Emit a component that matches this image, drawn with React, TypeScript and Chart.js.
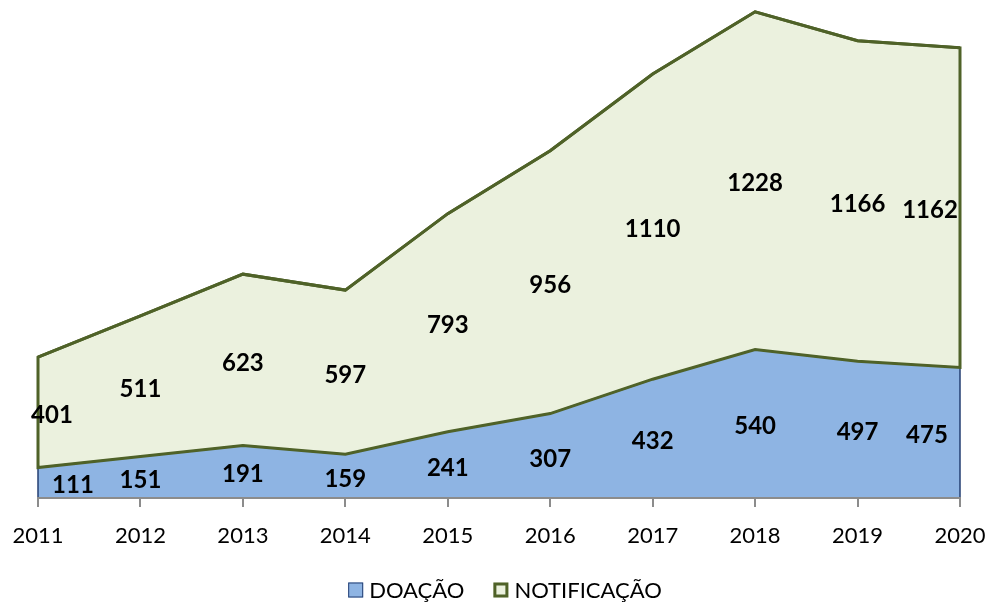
import React, { useEffect, useRef } from "react";
import { Chart, registerables } from "chart.js";

Chart.register(...registerables);

// ---- data ----
const years = ["2011", "2012", "2013", "2014", "2015", "2016", "2017", "2018", "2019", "2020"];
const doacao = [111, 151, 191, 159, 241, 307, 432, 540, 497, 475];
const notificacao = [401, 511, 623, 597, 793, 956, 1110, 1228, 1166, 1162];
const seriesNames = ["DOAÇÃO", "NOTIFICAÇÃO"];
const yMax = 1800;

// ---- styles ----
const FONT = "Lato, 'Open Sans', 'DejaVu Sans', sans-serif";
const BLUE_FILL = "#8EB4E3";
const BLUE_LINE = "#243F73";
const GREEN_FILL = "#EBF1DE";
const GREEN_LINE = "#4F6228";
const AXIS_GRAY = "#8C8C8C";

const areaPlugin = {
  id: "areaOutlineAndLabels",
  afterDatasetsDraw(chart: any) {
    const ctx = chart.ctx;
    const yScale = chart.scales.y;
    const base = yScale.getPixelForValue(0);
    const m0 = chart.getDatasetMeta(0).data;
    const m1 = chart.getDatasetMeta(1).data;
    const n = m0.length;
    ctx.save();
    // outline of lower area
    ctx.beginPath();
    ctx.moveTo(m0[0].x, base);
    for (let i = 0; i < n; i++) ctx.lineTo(m0[i].x, m0[i].y);
    ctx.lineTo(m0[n - 1].x, base);
    ctx.strokeStyle = BLUE_LINE;
    ctx.lineWidth = 1.5;
    ctx.lineJoin = "miter";
    ctx.stroke();
    // outline of upper band
    ctx.beginPath();
    for (let i = 0; i < n; i++) {
      if (i === 0) ctx.moveTo(m1[i].x, m1[i].y);
      else ctx.lineTo(m1[i].x, m1[i].y);
    }
    for (let i = n - 1; i >= 0; i--) ctx.lineTo(m0[i].x, m0[i].y);
    ctx.closePath();
    ctx.strokeStyle = GREEN_LINE;
    ctx.lineWidth = 3;
    ctx.stroke();

    // data labels, centred inside each band
    ctx.fillStyle = "#000";
    ctx.font = `bold 24px ${FONT}`;
    ctx.textAlign = "center";
    ctx.textBaseline = "middle";
    const edgeShift = [
      [35, -33],
      [14, -30],
    ];
    const sets = [doacao, notificacao];
    for (let d = 0; d < 2; d++) {
      const meta = d === 0 ? m0 : m1;
      for (let i = 0; i < n; i++) {
        const top = meta[i].y;
        const bottom = d === 0 ? base : m0[i].y;
        let x = meta[i].x;
        if (i === 0) x += edgeShift[d][0];
        if (i === n - 1) x += edgeShift[d][1];
        ctx.fillText(String(sets[d][i]), x, (top + bottom) / 2 + 3);
      }
    }
    ctx.restore();
  },
};

const legendPlugin = {
  id: "customLegend",
  afterDraw(chart: any) {
    const ctx = chart.ctx;
    ctx.save();
    ctx.font = `22px ${FONT}`;
    ctx.textBaseline = "middle";
    ctx.textAlign = "left";
    const box = 15;
    const gap = 6;
    const itemGap = 29;
    const widths = seriesNames.map((s) => ctx.measureText(s).width);
    const total = box * 2 + gap * 2 + widths[0] + widths[1] + itemGap;
    let x = chart.width / 2 + 10 - total / 2;
    const cy = 590;
    const fills = [BLUE_FILL, GREEN_FILL];
    const lines = [BLUE_LINE, GREEN_LINE];
    const lws = [1, 3];
    for (let i = 0; i < 2; i++) {
      ctx.fillStyle = fills[i];
      ctx.fillRect(x, cy - box / 2, box, box);
      ctx.strokeStyle = lines[i];
      ctx.lineWidth = lws[i];
      const inset = lws[i] / 2;
      ctx.strokeRect(x + inset, cy - box / 2 + inset, box - lws[i], box - lws[i]);
      x += box + gap;
      ctx.fillStyle = "#000";
      ctx.fillText(seriesNames[i], x, cy + 1);
      x += widths[i] + itemGap;
    }
    ctx.restore();
  },
};

export default function App() {
  const ref = useRef<HTMLCanvasElement | null>(null);
  useEffect(() => {
    if (!ref.current) return;
    const chart = new Chart(ref.current, {
      type: "line",
      data: {
        labels: years,
        datasets: [
          {
            label: seriesNames[0],
            data: doacao,
            backgroundColor: BLUE_FILL,
            borderColor: BLUE_LINE,
            borderWidth: 1,
            fill: "origin",
            pointRadius: 0,
            tension: 0,
          },
          {
            label: seriesNames[1],
            data: notificacao,
            backgroundColor: GREEN_FILL,
            borderColor: GREEN_LINE,
            borderWidth: 3,
            fill: "-1",
            pointRadius: 0,
            tension: 0,
          },
        ],
      },
      options: {
        animation: false,
        responsive: true,
        maintainAspectRatio: false,
        layout: { padding: { left: 38, right: 30, top: 3, bottom: 0 } },
        plugins: { legend: { display: false }, tooltip: { enabled: false } },
        scales: {
          x: {
            offset: false,
            grid: {
              display: true,
              drawOnChartArea: false,
              drawTicks: true,
              tickLength: 9,
              color: AXIS_GRAY,
              lineWidth: 2,
              z: 1,
            },
            border: { display: true, color: AXIS_GRAY, width: 2, z: 1 },
            ticks: {
              color: "#000",
              font: { family: FONT, size: 22 },
              padding: 16,
              maxRotation: 0,
              autoSkip: false,
            },
            afterFit: (s: any) => {
              s.height = 106;
              s.paddingLeft = 0;
              s.paddingRight = 0;
            },
          },
          y: { display: false, stacked: true, min: 0, max: yMax },
        },
      },
      plugins: [areaPlugin, legendPlugin],
    });
    return () => chart.destroy();
  }, []);
  return (
    <div style={{ position: "absolute", left: 0, top: 0, width: 990, height: 604 }}>
      <canvas ref={ref} style={{ display: "block" }} />
    </div>
  );
}
